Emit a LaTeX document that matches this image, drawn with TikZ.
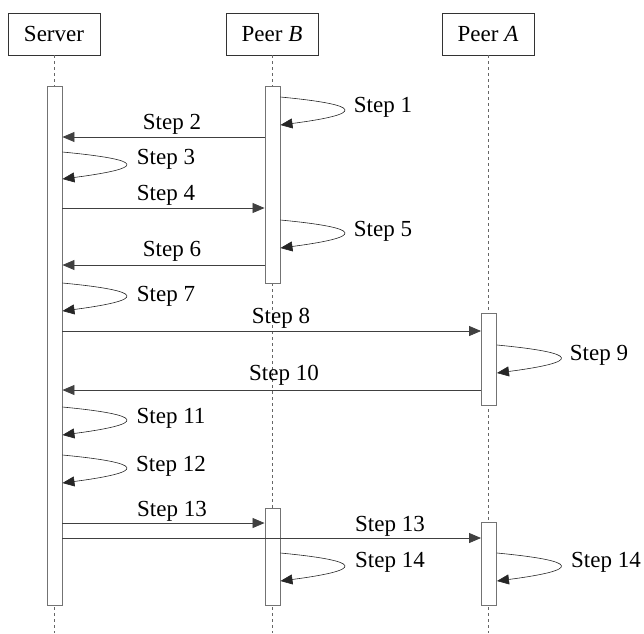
\documentclass[tikz,border=0pt]{standalone}
\usepackage{fontspec}
\setmainfont{Liberation Serif}
\usetikzlibrary{arrows.meta}
\begin{document}
\begin{tikzpicture}[x=1pt,y=-1pt,
 head/.style={draw=black!80, line width=0.8pt, minimum width=92pt, minimum height=42pt, inner sep=0, font=\fontsize{23}{23}\selectfont},
 bar/.style={draw=black!55, fill=white, line width=0.9pt, minimum width=15pt, inner sep=0},
 life/.style={draw=black!60, dash pattern=on 3pt off 3pt, line width=0.5pt},
 msg/.style={draw=black!75, line width=0.8pt, -{Triangle[length=12pt,width=10pt]}},
 loopmsg/.style={draw=black!85, line width=0.6pt, -{Triangle[length=12pt,width=10pt]}},
 lbl/.style={font=\fontsize{23}{23}\selectfont, inner sep=0}]
\useasboundingbox (0,0) rectangle (644,633);
% headers
\node[head] (srv) at (54,34) {Server};
\node[head] (pb) at (272,34) {Peer \textit{B}};
\node[head] (pa) at (488,34) {Peer \textit{A}};
\coordinate (srvend) at (54,633);
\coordinate (pbend) at (272,633);
\coordinate (paend) at (488,633);
\draw[life] (srv.south) -- (srvend);
\draw[life] (pb.south) -- (pbend);
\draw[life] (pa.south) -- (paend);
% activation bars
\node[bar, minimum height=519pt] (sbar) at (54.5,345.5) {};
\node[bar, minimum height=197pt] (bbar1) at (272.5,184.5) {};
\node[bar, minimum height=92pt] (abar1) at (489,359) {};
\node[bar, minimum height=97pt] (bbar2) at (272.5,556.5) {};
\node[bar, minimum height=83pt] (abar2) at (489,563.5) {};
% end points
\coordinate (s1a) at (bbar1.east |- 0,97);  \coordinate (s1b) at (bbar1.east |- 0,125);
\coordinate (s2a) at (bbar1.west |- 0,137); \coordinate (s2b) at (sbar.east |- 0,137);
\coordinate (s3a) at (sbar.east |- 0,152);  \coordinate (s3b) at (sbar.east |- 0,179);
\coordinate (s4a) at (sbar.east |- 0,208);  \coordinate (s4b) at (bbar1.west |- 0,208);
\coordinate (s5a) at (bbar1.east |- 0,220); \coordinate (s5b) at (bbar1.east |- 0,248);
\coordinate (s6a) at (bbar1.west |- 0,265); \coordinate (s6b) at (sbar.east |- 0,265);
\coordinate (s7a) at (sbar.east |- 0,283);  \coordinate (s7b) at (sbar.east |- 0,311);
\coordinate (s8a) at (sbar.east |- 0,331);  \coordinate (s8b) at (abar1.west |- 0,331);
\coordinate (s9a) at (abar1.east |- 0,345); \coordinate (s9b) at (abar1.east |- 0,373);
\coordinate (s10a) at (abar1.west |- 0,390); \coordinate (s10b) at (sbar.east |- 0,390);
\coordinate (s11a) at (sbar.east |- 0,407); \coordinate (s11b) at (sbar.east |- 0,435);
\coordinate (s12a) at (sbar.east |- 0,455); \coordinate (s12b) at (sbar.east |- 0,483);
\coordinate (s13a) at (sbar.east |- 0,523); \coordinate (s13b) at (bbar2.west |- 0,523);
\coordinate (s13c) at (sbar.east |- 0,538); \coordinate (s13d) at (abar2.west |- 0,538);
\coordinate (s14a) at (bbar2.east |- 0,553); \coordinate (s14b) at (bbar2.east |- 0,581);
\coordinate (s14c) at (abar2.east |- 0,553); \coordinate (s14d) at (abar2.east |- 0,581);
% messages
\draw[msg] (s2a) -- (s2b);
\draw[msg] (s4a) -- (s4b);
\draw[msg] (s6a) -- (s6b);
\draw[msg] (s8a) -- (s8b);
\draw[msg] (s10a) -- (s10b);
\draw[msg] (s13a) -- (s13b);
\draw[msg] (s13c) -- (s13d);
% self loops
\foreach \a/\b in {s1a/s1b,s3a/s3b,s5a/s5b,s7a/s7b,s9a/s9b,s11a/s11b,s12a/s12b,s14a/s14b,s14c/s14d}
  \draw[loopmsg] (\a) .. controls +(84,8) and +(84,-11) .. (\b);
% labels
\node[lbl] (t1) at (383,107) {Step 1};
\node[lbl] (t2) at (172,124) {Step 2};
\node[lbl] (t3) at (166,159) {Step 3};
\node[lbl] (t4) at (166,195) {Step 4};
\node[lbl] (t5) at (383,231.5) {Step 5};
\node[lbl] (t6) at (172,251) {Step 6};
\node[lbl] (t7) at (166,296) {Step 7};
\node[lbl] (t8) at (281,318) {Step 8};
\node[lbl] (t9) at (599,355.5) {Step 9};
\node[lbl] (t10) at (284,375) {Step 10};
\node[lbl] (t11) at (171,418) {Step 11};
\node[lbl] (t12) at (171,466) {Step 12};
\node[lbl] (t13) at (172,511) {Step 13};
\node[lbl] (t13b) at (390,526.5) {Step 13};
\node[lbl] (t14) at (390,562.5) {Step 14};
\node[lbl] (t14b) at (606,562) {Step 14};
\end{tikzpicture}
\end{document}
